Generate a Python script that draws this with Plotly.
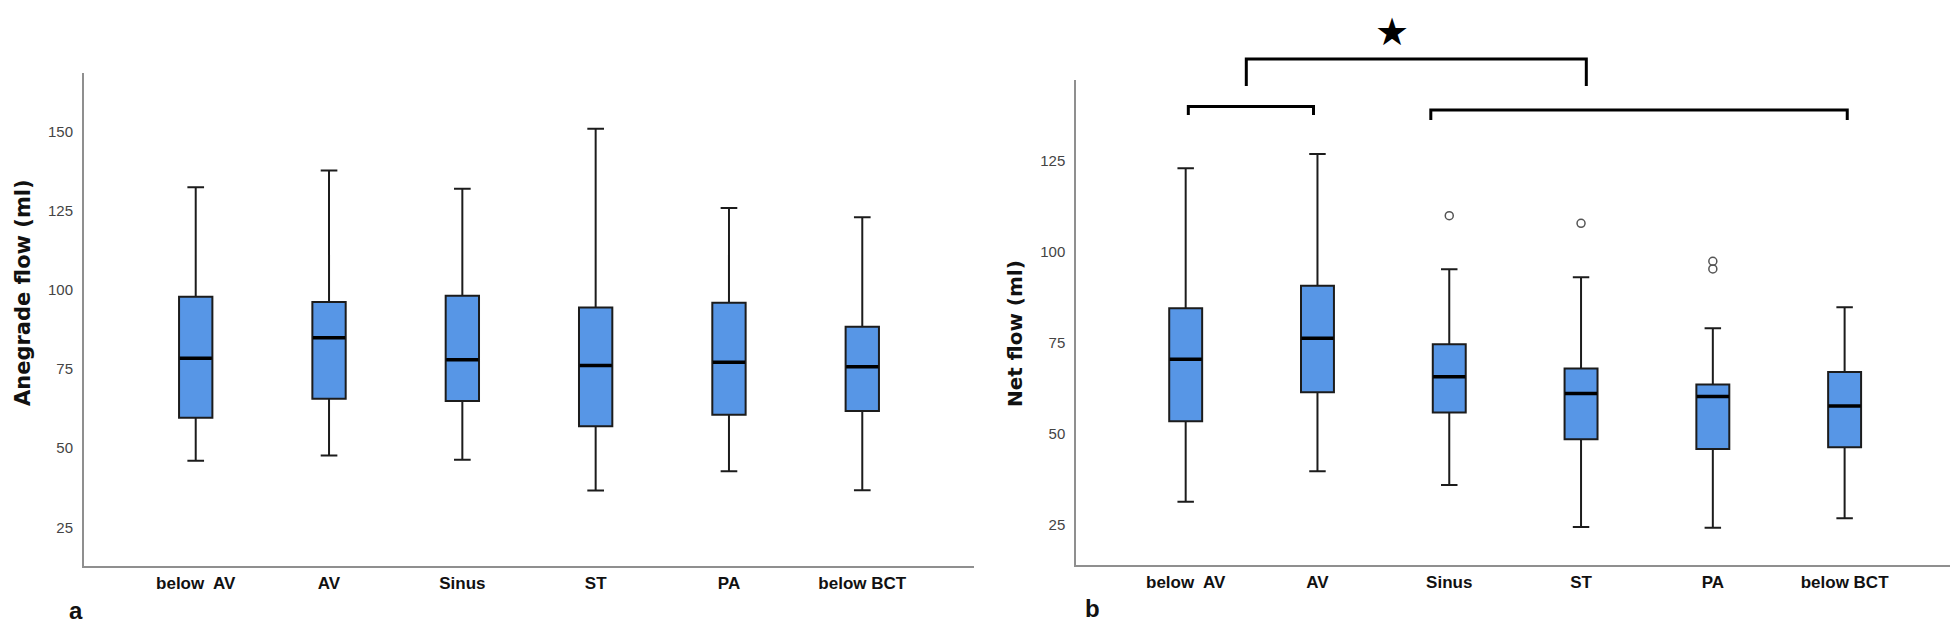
import plotly.graph_objects as go

# ---------------- data ----------------
categories = ["below  AV", "AV", "Sinus", "ST", "PA", "below BCT"]

ante_lower = [46.0, 47.7, 46.3, 36.6, 42.7, 36.7]
ante_q1 = [59.6, 65.6, 64.9, 56.9, 60.5, 61.7]
ante_median = [78.4, 84.8, 77.9, 76.1, 77.1, 75.7]
ante_q3 = [97.8, 96.1, 98.1, 94.4, 95.9, 88.3]
ante_upper = [132.3, 137.6, 131.9, 150.8, 125.8, 122.9]

net_lower = [31.3, 39.7, 35.9, 24.4, 24.2, 26.8]
net_q1 = [53.4, 61.4, 55.8, 48.5, 45.8, 46.3]
net_median = [70.4, 76.2, 65.6, 61.0, 60.2, 57.6]
net_q3 = [84.4, 90.6, 74.5, 67.9, 63.5, 66.9]
net_upper = [122.8, 126.7, 95.1, 92.9, 78.9, 84.7]

net_outlier_cat = ["Sinus", "ST", "PA", "PA"]
net_outlier_val = [109.8, 107.7, 97.3, 95.2]

ante_ticks = [25, 50, 75, 100, 125, 150]
net_ticks = [25, 50, 75, 100, 125]

# ---------------- style ----------------
BOX_FILL = "#5796E6"
BOX_LINE = "#1c1c1c"
AXIS_COLOR = "#8f8f8f"
TICK_FONT = dict(family="Liberation Sans, Arial, sans-serif", size=15, color="#444444")
CAT_FONT = dict(family="Liberation Sans Narrow, Arial Narrow, Liberation Sans, sans-serif",
                size=17, color="#111111", weight="bold")

pos = list(range(len(categories)))
cat_index = {c: i for i, c in enumerate(categories)}

fig = go.Figure()


def add_panel(xa, ya, lower, q1, med, q3, upper):
    fig.add_trace(go.Box(
        x=pos, q1=q1, median=med, q3=q3, lowerfence=lower, upperfence=upper,
        orientation="v", width=0.25, whiskerwidth=0.5,
        fillcolor=BOX_FILL, line=dict(color=BOX_LINE, width=2),
        boxpoints=False, showlegend=False, xaxis=xa, yaxis=ya, hoverinfo="skip",
    ))
    # thicker median line
    fig.add_trace(go.Scatter(
        x=pos, y=med, mode="markers", xaxis=xa, yaxis=ya, showlegend=False,
        marker=dict(symbol="line-ew", size=23, color="black",
                    line=dict(color="black", width=3.5)),
        hoverinfo="skip",
    ))


add_panel("x", "y", ante_lower, ante_q1, ante_median, ante_q3, ante_upper)
add_panel("x2", "y2", net_lower, net_q1, net_median, net_q3, net_upper)

fig.add_trace(go.Scatter(
    x=[cat_index[c] for c in net_outlier_cat], y=net_outlier_val, mode="markers",
    xaxis="x2", yaxis="y2", showlegend=False,
    marker=dict(symbol="circle-open", size=8, color="#555555", line=dict(width=1.5)),
    hoverinfo="skip",
))

W, H = 1958, 624

common_x = dict(
    tickmode="array", tickvals=pos, ticktext=categories, tickfont=CAT_FONT,
    showline=True, linecolor=AXIS_COLOR, linewidth=2, showgrid=False, zeroline=False,
    ticks="", ticklabelstandoff=0, automargin=False, fixedrange=True,
)
common_y = dict(
    showline=True, linecolor=AXIS_COLOR, linewidth=2, showgrid=False, zeroline=False,
    ticks="", tickfont=TICK_FONT, ticklabelstandoff=6, automargin=False, fixedrange=True,
    tickmode="array",
)

fig.update_layout(
    width=W, height=H,
    margin=dict(l=0, r=0, t=0, b=0),
    paper_bgcolor="white", plot_bgcolor="white",
    xaxis=dict(domain=[76 / W, 966 / W], range=[-0.838, 5.838], anchor="y", **common_x),
    yaxis=dict(domain=[1 - 558.3 / H, 1 - 65 / H], range=[12.7, 168.4], anchor="x",
               tickvals=ante_ticks, **common_y),
    xaxis2=dict(domain=[1068.3 / W, 1946 / W], range=[-0.83, 5.83], anchor="y2", **common_x),
    yaxis2=dict(domain=[1 - 557.3 / H, 1 - 71.7 / H], range=[13.9, 147.1], anchor="x2",
                tickvals=net_ticks, **common_y),
)

PANEL_FONT = dict(family="Liberation Sans, Arial, sans-serif", size=24, color="#111111")

annotations = [
    dict(text="<b>Anegrade flow (ml)</b>", textangle=-90, xref="paper", yref="paper",
         x=15 / W, y=1 - 285 / H, showarrow=False,
         font=dict(family="DejaVu Sans, sans-serif", size=21, color="#111111"),
         xanchor="center", yanchor="middle"),
    dict(text="<b>Net flow (ml)</b>", textangle=-90, xref="paper", yref="paper",
         x=1007 / W, y=1 - 326 / H, showarrow=False,
         font=dict(family="DejaVu Sans, sans-serif", size=20, color="#111111"),
         xanchor="center", yanchor="middle"),
    dict(text="<b>a</b>", xref="paper", yref="paper", x=68 / W, y=1 - 602 / H,
         showarrow=False, font=PANEL_FONT, xanchor="center", yanchor="middle"),
    dict(text="<b>b</b>", xref="paper", yref="paper", x=1084 / W, y=1 - 600 / H,
         showarrow=False, font=PANEL_FONT, xanchor="center", yanchor="middle"),
    dict(text="★", xref="x2", yref="paper", x=1.565, y=1.0, showarrow=False,
         font=dict(family="DejaVu Sans, sans-serif", size=38, color="black"),
         xanchor="center", yanchor="top"),
]
fig.update_layout(annotations=annotations)

# significance brackets (x in category index units of the right panel, y in paper)
brackets = [
    (0.02, 0.97, 1 - 98.5 / H, 1 - 107 / H),
    (1.86, 5.02, 1 - 102 / H, 1 - 112 / H),
    (0.46, 3.04, 1 - 51 / H, 1 - 78 / H),
]
for x0, x1, ytop, yleg in brackets:
    fig.add_shape(type="path", xref="x2", yref="paper",
                  path=f"M {x0},{yleg} L {x0},{ytop} L {x1},{ytop} L {x1},{yleg}",
                  line=dict(color="black", width=3))

fig.write_html("out.html")
